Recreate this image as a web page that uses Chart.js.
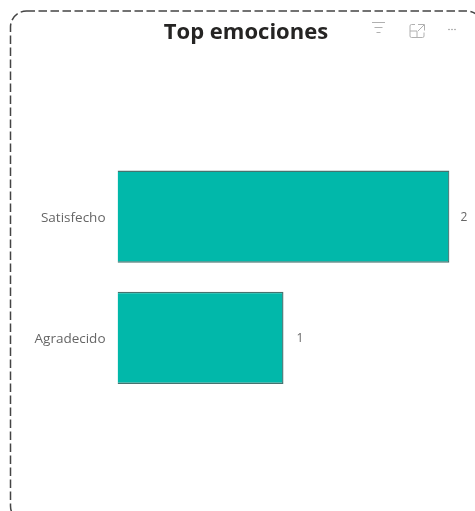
<!DOCTYPE html>
<html lang="es">

<head>
    <meta charset="UTF-8">
    <title>Top emociones</title>
    <script src="https://cdn.jsdelivr.net/npm/chart.js"></script>
    <style>
        html, body { margin: 0; padding: 0; background: #fff; overflow: hidden; }
        .container { position: relative; width: 475px; height: 511px; }
        canvas { position: absolute; left: 0; top: 0; }
        .frame { position: absolute; left: 0; top: 0; }
        .title {
            position: absolute; left: 146px; width: 200px; top: 15px; margin: 0;
            font: 700 22px "Open Sans", sans-serif; color: #252423; text-align: center; white-space: nowrap;
        }
    </style>
</head>

<body>
    <div class="container">
        <canvas id="myChart" width="475" height="511"></canvas>
        <svg class="frame" width="475" height="511" fill="none">
            <rect x="10.5" y="11" width="472" height="511" rx="16" stroke="#444" stroke-width="1.5" stroke-dasharray="8.5 3.5"/>
            <g stroke="#b0b0b0" stroke-width="1">
                <path d="M372 22.5h13M374.5 27.5h8M376.5 32.5h4"/>
                <path d="M415 24.5h-3.5a1.5 1.5 0 0 0 -1.5 1.5v10a1.5 1.5 0 0 0 1.5 1.5h11a1.5 1.5 0 0 0 1.5 -1.5v-3.5M418 24.5h6.5v6M424 25l-6 6M410 31h7v6.5"/>
            </g>
            <g fill="#999">
                <circle cx="449" cy="29.5" r="0.8"/><circle cx="452" cy="29.5" r="0.8"/><circle cx="455" cy="29.5" r="0.8"/>
            </g>
        </svg>
        <h1 class="title">Top emociones</h1>
    </div>

    <script>
        const categories = ['Satisfecho', 'Agradecido'];
        const values = [2, 1];

        // value labels next to the bars
        const valueLabels = {
            id: 'valueLabels',
            afterDatasetsDraw(chart) {
                const ctx = chart.ctx;
                const meta = chart.getDatasetMeta(0);
                ctx.save();
                ctx.font = '12px "Open Sans", sans-serif';
                ctx.fillStyle = '#666666';
                ctx.textAlign = 'left';
                ctx.textBaseline = 'middle';
                meta.data.forEach(function (bar, i) {
                    ctx.fillText(values[i], bar.x + (i === 0 ? 11 : 13), bar.y + 0.5);
                });
                ctx.restore();
            }
        };

        new Chart(document.getElementById('myChart'), {
            type: 'bar',
            data: {
                labels: categories,
                datasets: [{
                    data: values,
                    backgroundColor: '#01B8AA',
                    borderColor: '#45736f',
                    borderWidth: 1.4,
                    barPercentage: 0.76,
                    categoryPercentage: 1
                }]
            },
            options: {
                indexAxis: 'y',
                responsive: false,
                animation: false,
                layout: { padding: { left: 0, right: 25.5, top: 156, bottom: 112.5 } },
                plugins: { legend: { display: false }, tooltip: { enabled: false } },
                scales: {
                    x: { display: false, min: 0, max: 2 },
                    y: {
                        border: { display: false },
                        grid: { display: false, drawTicks: false },
                        afterFit(scale) { scale.width = 117.5; },
                        ticks: {
                            padding: 12,
                            labelOffset: 1.5,
                            color: '#666666',
                            font: { family: '"Open Sans", sans-serif', size: 13.5 }
                        }
                    }
                }
            },
            plugins: [valueLabels]
        });
    </script>
</body>

</html>
